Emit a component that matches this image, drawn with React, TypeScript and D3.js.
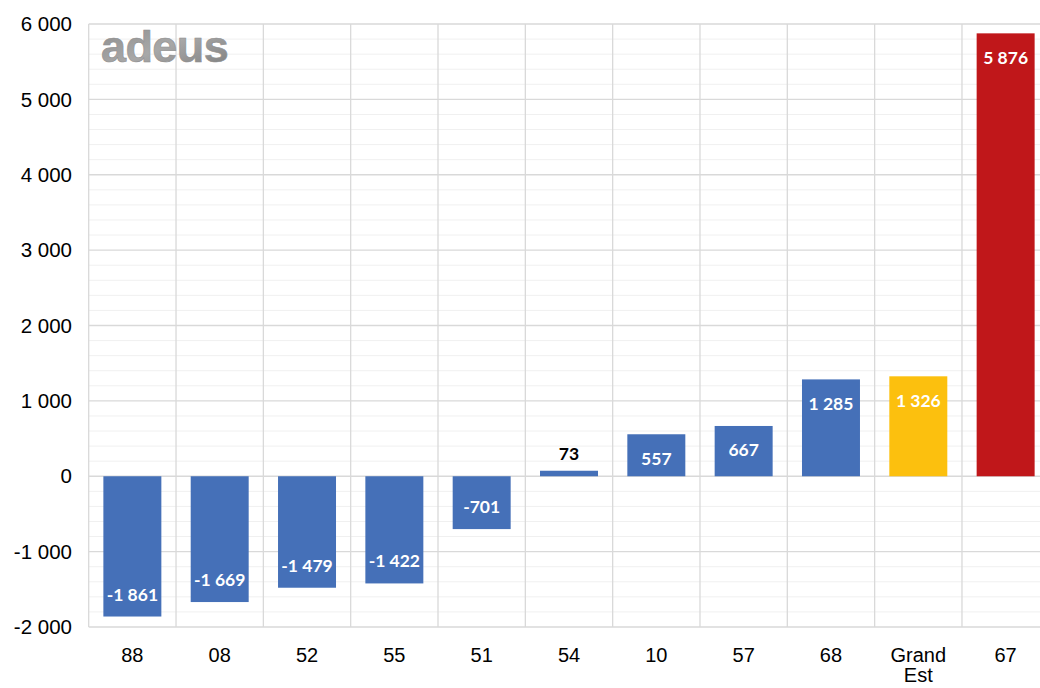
import React from "react";
import * as d3 from "d3";

const categories = ["88", "08", "52", "55", "51", "54", "10", "57", "68", "Grand Est", "67"];
const values = [-1861, -1669, -1479, -1422, -701, 73, 557, 667, 1285, 1326, 5876];
const barColors = ["#4570B8", "#4570B8", "#4570B8", "#4570B8", "#4570B8", "#4570B8", "#4570B8", "#4570B8", "#4570B8", "#FCC00E", "#C0171A"];
const yTicks = [-2000, -1000, 0, 1000, 2000, 3000, 4000, 5000, 6000];

const W = 1040;
const H = 688;
const M = { left: 88.7, right: -9.3, top: 24, bottom: 61 };

const fmt = d3
  .formatLocale({ decimal: ",", thousands: " ", grouping: [3], currency: ["", ""], minus: "-" })
  .format(",d");

export default function App() {
  const x = d3
    .scaleBand<string>()
    .domain(categories)
    .range([M.left, W - M.right])
    .padding(0);
  const y = d3.scaleLinear().domain([-2000, 6000]).range([H - M.bottom, M.top]);
  const bw = x.bandwidth();
  const barW = bw * 0.664;
  const minor = d3.range(-2000, 6001, 200).filter((v) => v % 1000 !== 0);
  const x0 = M.left;
  const x1 = W - M.right;

  return (
    <svg
      width={W}
      height={H}
      style={{ position: "absolute", left: 0, top: 0, background: "#fff" }}
    >
      <defs>
        <linearGradient id="logoGrad" x1="0" y1="0" x2="1" y2="1">
          <stop offset="0" stopColor="#8a8a8a" />
          <stop offset="0.5" stopColor="#a8a8a8" />
          <stop offset="1" stopColor="#7c7c7c" />
        </linearGradient>
      </defs>
      {minor.map((v) => (
        <line key={"m" + v} x1={x0} x2={x1} y1={y(v)} y2={y(v)} stroke="#f0f0f0" strokeWidth={1} />
      ))}
      {yTicks.map((v) => (
        <line key={"g" + v} x1={x0} x2={x1} y1={y(v)} y2={y(v)} stroke="#d9d9d9" strokeWidth={1.3} />
      ))}
      {categories.map((c) => (
        <line
          key={"v" + c}
          x1={x(c)!}
          x2={x(c)!}
          y1={y(6000)}
          y2={y(-2000)}
          stroke="#d9d9d9"
          strokeWidth={1.3}
        />
      ))}
      <text
        x={101}
        y={62}
        fontFamily="Liberation Sans, Arial, sans-serif"
        fontWeight={700}
        fontSize={45}
        letterSpacing={-0.6}
        fill="url(#logoGrad)"
        stroke="#8f8f8f"
        strokeWidth={0.6}
      >
        adeus
      </text>
      {yTicks.map((v) => (
        <text
          key={"t" + v}
          x={72}
          y={y(v)}
          dy="0.35em"
          textAnchor="end"
          fontFamily="Liberation Sans, Arial, sans-serif"
          fontSize={20.5}
          fill="#000"
        >
          {fmt(v)}
        </text>
      ))}
      {categories.map((c, i) => {
        const cx = x(c)! + bw / 2;
        const top = y(Math.max(0, values[i]));
        const bot = y(Math.min(0, values[i]));
        return (
          <rect key={"b" + c} x={cx - barW / 2} y={top} width={barW} height={bot - top} fill={barColors[i]} />
        );
      })}
      {categories.map((c, i) => {
        const v = values[i];
        const cx = x(c)! + bw / 2;
        let ty: number;
        let fill = "#fff";
        if (Math.abs(v) < 300) {
          ty = y(v) - 11;
          fill = "#000";
        } else if (v > 0) {
          ty = y(v) + 30.5;
        } else {
          ty = y(v) - 16;
        }
        return (
          <text
            key={"l" + c}
            x={cx}
            y={ty}
            textAnchor="middle"
            fontFamily="Lato, 'Open Sans', sans-serif"
            fontWeight={700}
            fontSize={17.5}
            fill={fill}
          >
            {fmt(v)}
          </text>
        );
      })}
      {categories.map((c) => {
        const cx = x(c)! + bw / 2;
        const lines = c.split(" ");
        return (
          <text
            key={"c" + c}
            x={cx}
            y={662}
            textAnchor="middle"
            fontFamily="Liberation Sans, Arial, sans-serif"
            fontSize={20}
            fill="#000"
          >
            {lines.map((ln, k) => (
              <tspan key={k} x={cx} dy={k === 0 ? 0 : 20}>
                {ln}
              </tspan>
            ))}
          </text>
        );
      })}
    </svg>
  );
}
